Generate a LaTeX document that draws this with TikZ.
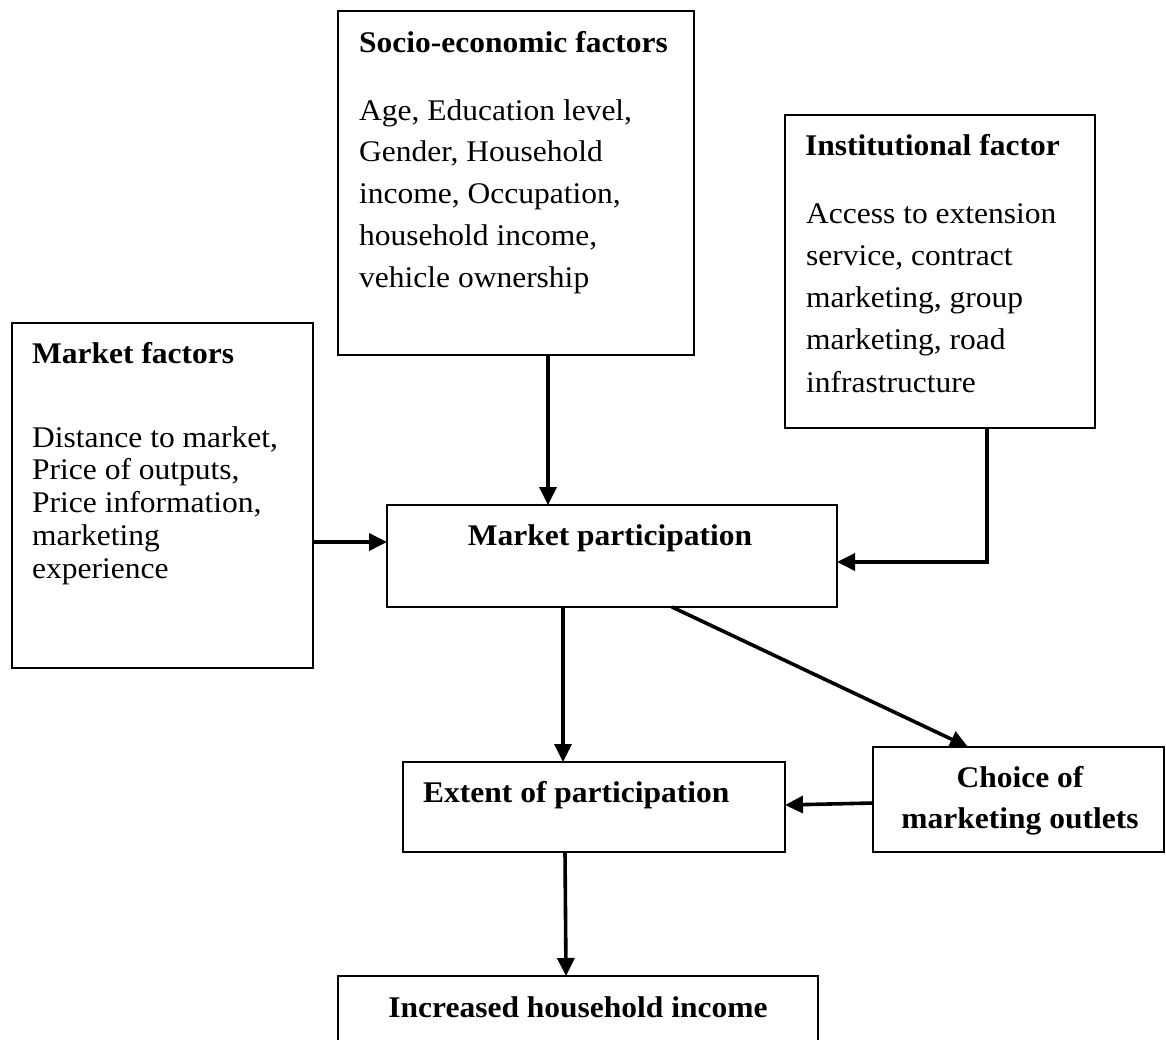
\documentclass[tikz,border=0pt]{standalone}
\usepackage{fontspec}
\setmainfont{Liberation Serif}[FakeStretch=1.05]
\usetikzlibrary{arrows.meta}
\tikzset{
  box/.style={draw, line width=1.6pt, anchor=north west, inner sep=0pt, outer sep=0pt},
  head/.style={anchor=base west, inner sep=0pt, font=\fontsize{30}{36}\selectfont\bfseries},
  body/.style={anchor=base west, inner sep=0pt, align=left},
  ctext/.style={anchor=base, inner sep=0pt, align=center, font=\fontsize{30}{41}\selectfont\bfseries},
  arr/.style={line width=3.6pt, -{Triangle[length=18pt,width=17pt]}}
}
\begin{document}
\begin{tikzpicture}[x=1pt,y=-1pt]
\clip (0,0) rectangle (1166,1039);
\fill[white] (0,0) rectangle (1166,1039);
% boxes
\node[box, minimum width=356pt, minimum height=344pt] (soc) at (338,11) {};
\node[box, minimum width=310pt, minimum height=313pt] (inst) at (785,115) {};
\node[box, minimum width=301pt, minimum height=345pt] (mkt) at (12,323) {};
\node[box, minimum width=450pt, minimum height=102pt] (mp) at (387,505) {};
\node[box, minimum width=382pt, minimum height=90pt] (ext) at (403,762) {};
\node[box, minimum width=291pt, minimum height=105pt] (cho) at (873,747) {};
\node[box, minimum width=480pt, minimum height=120pt] (inc) at (338,976) {};
% texts (multi-line nodes: base anchor is the last line's baseline)
\node[head] (socH) at (359,52) {Socio-economic factors};
\node[body, font=\fontsize{30}{41.7}\selectfont] (socB) at (359,287) {Age, Education level,\\Gender, Household\\income, Occupation,\\household income,\\vehicle ownership};
\node[head] (instH) at (805,155) {Institutional factor};
\node[body, font=\fontsize{30}{42.2}\selectfont] (instB) at (806,392) {Access to extension\\service, contract\\marketing, group\\marketing, road\\infrastructure};
\node[head] (mktH) at (32,363) {Market factors};
\node[body, font=\fontsize{30}{32.75}\selectfont] (mktB) at (32,578) {Distance to market,\\Price of outputs,\\Price information,\\marketing\\experience};
\node[ctext] (mpT) at (610,545) {Market participation};
\node[head] (extT) at (423,802) {Extent of participation};
\node[ctext] (choT) at (1020,828) {Choice of\\marketing outlets};
\node[ctext] (incT) at (578,1017) {Increased household income};
% connectors
\draw[arr] ([xshift=210pt]soc.south west) -- ([xshift=161pt]mp.north west);
\draw[arr] ([yshift=-219pt]mkt.north east) -- ([yshift=-37pt]mp.north west);
\draw[arr, line join=miter] ([xshift=202pt]inst.south west) |- ([yshift=-57pt]mp.north east);
\draw[arr] ([xshift=176pt]mp.south west) -- ([xshift=160pt]ext.north west);
\draw[arr] ([xshift=285pt]mp.south west) -- ([xshift=95pt]cho.north west);
\draw[arr] ([yshift=-56pt]cho.north west) -- ([yshift=-43pt]ext.north east);
\draw[arr] ([xshift=162pt]ext.south west) -- ([xshift=228pt]inc.north west);
\end{tikzpicture}
\end{document}
